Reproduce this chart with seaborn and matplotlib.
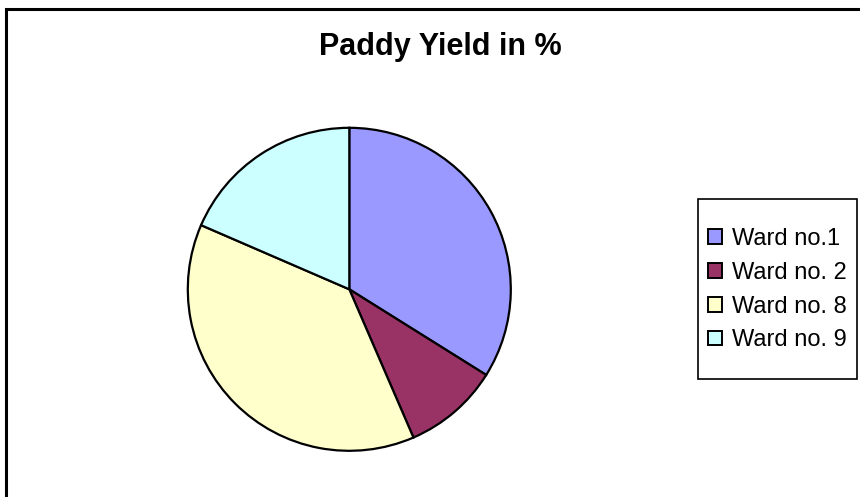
import matplotlib
matplotlib.use("Agg")
import matplotlib.pyplot as plt
from matplotlib.patches import Rectangle, Patch
import seaborn as sns

# Share of paddy yield by ward
wards = ["Ward no.1", "Ward no. 2", "Ward no. 8", "Ward no. 9"]
yield_pct = [33.9, 9.6, 38.0, 18.5]
colors = ["#9999FF", "#993366", "#FFFFCC", "#CCFFFF"]

sns.set_theme(style="white")
plt.rcParams["font.family"] = ["Liberation Sans", "DejaVu Sans"]
plt.rcParams["text.color"] = "black"

W, H = 860, 497
fig = plt.figure(figsize=(W / 100, H / 100), dpi=100)
fig.patch.set_facecolor("white")

def px(x, y):
    """pixel position (from top-left) -> figure fraction"""
    return x / W, 1 - y / H

# chart-area frame (runs off the right and bottom edges)
fig.add_artist(Rectangle((6 / W, -0.05), 1.2, 1 - 9 / H + 0.05,
                         transform=fig.transFigure, fill=False,
                         edgecolor="black", linewidth=2.2))

fig.text(*px(440, 55), "Paddy Yield in %", ha="center", va="baseline",
         fontsize=22, fontweight="bold", color="black")

cx, cy, r = 349.3, 289.3, 161.5
ax = fig.add_axes([(cx - r) / W, (H - cy - r) / H, 2 * r / W, 2 * r / H])
ax.pie(yield_pct, colors=colors, startangle=90, counterclock=False,
       wedgeprops=dict(edgecolor="black", linewidth=1.6))
ax.set_xlim(-1, 1)
ax.set_ylim(-1, 1)
ax.set_aspect("auto")
ax.axis("off")

# legend box
lx0, ly0, lx1, ly1 = 698, 199, 857, 379
fig.add_artist(Rectangle(px(lx0, ly1), (lx1 - lx0) / W, (ly1 - ly0) / H,
                         transform=fig.transFigure, fill=False,
                         edgecolor="black", linewidth=1.2))

handles = [Patch(facecolor=c, edgecolor="black", linewidth=1.4, label=w)
           for c, w in zip(colors, wards)]
leg = fig.legend(handles=handles, loc="upper left",
                 bbox_to_anchor=px(708, 228),
                 fontsize=17, frameon=False,
                 handlelength=0.58, handleheight=0.58, handletextpad=0.45,
                 labelspacing=0.50, borderpad=0, borderaxespad=0)
for t in leg.get_texts():
    t.set_color("black")

fig.savefig("out.png", dpi=100, facecolor="white")
